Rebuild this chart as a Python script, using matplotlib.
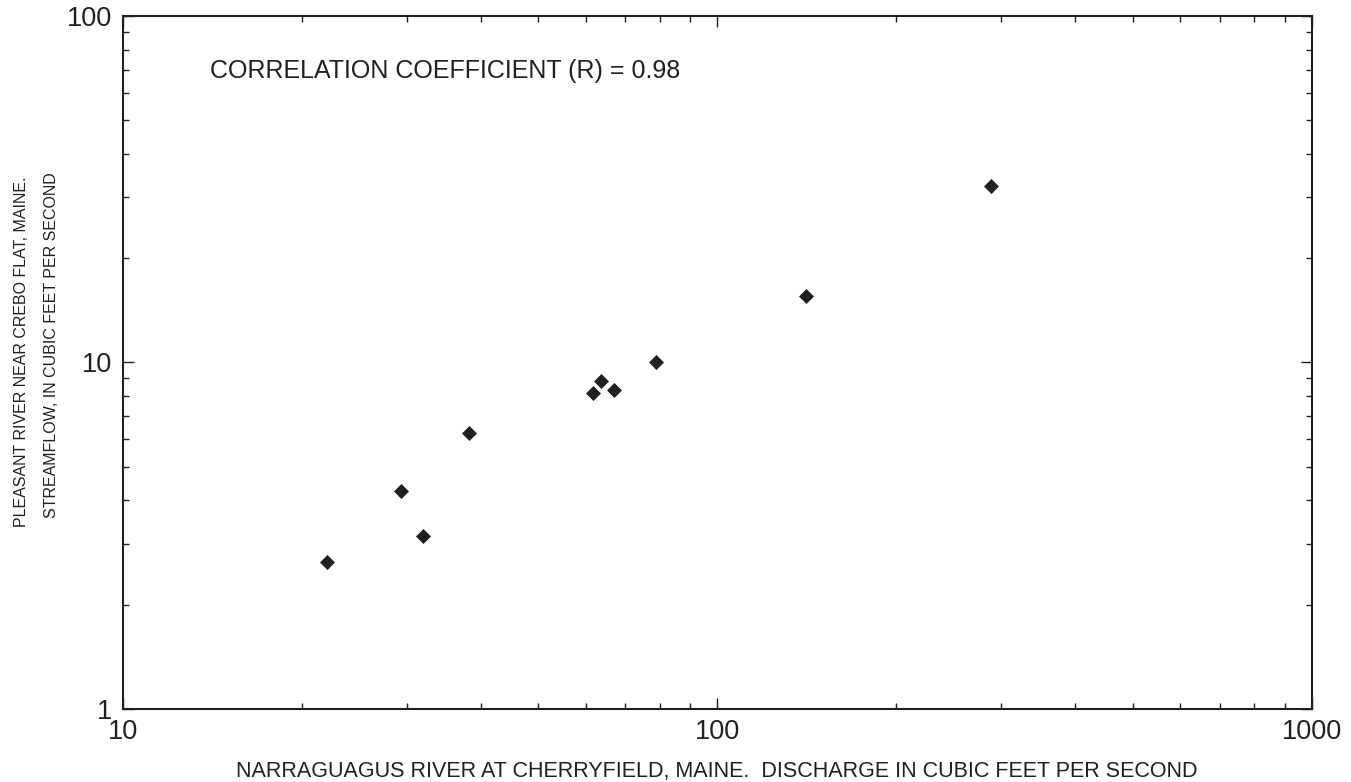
import matplotlib
matplotlib.use("Agg")
import matplotlib.pyplot as plt
from matplotlib.ticker import FixedLocator, FixedFormatter, LogLocator, NullFormatter

# values (cfs)
narraguagus_q = [22.0, 29.4, 32.0, 38.2, 61.8, 63.8, 66.9, 78.8, 141.0, 288.0]
pleasant_q = [2.65, 4.27, 3.15, 6.26, 8.17, 8.83, 8.35, 10.03, 15.6, 32.4]

x_ticks = [10, 100, 1000]
x_tick_labels = ["10", "100", "1000"]
y_ticks = [1, 10, 100]
y_tick_labels = ["1", "10", "100"]

r_text = "CORRELATION COEFFICIENT (R) = 0.98"
x_label = "NARRAGUAGUS RIVER AT CHERRYFIELD, MAINE.  DISCHARGE IN CUBIC FEET PER SECOND"
y_label_1 = "PLEASANT RIVER NEAR CREBO FLAT, MAINE."
y_label_2 = "STREAMFLOW, IN CUBIC FEET PER SECOND"

plt.rcParams["font.family"] = ["Liberation Sans", "DejaVu Sans"]
ink = "#231f20"

fig = plt.figure(figsize=(13.51, 7.82), dpi=100)
fig.subplots_adjust(left=0.091, right=0.9711, top=0.9795, bottom=0.0934)
ax = fig.add_subplot(111)

ax.plot(narraguagus_q, pleasant_q, linestyle="none", marker="D",
        markersize=6.8, color=ink, markeredgewidth=0.5)

ax.set_xscale("log")
ax.set_yscale("log")
ax.set_xlim(10, 1000)
ax.set_ylim(1, 100)

ax.xaxis.set_major_locator(FixedLocator(x_ticks))
ax.xaxis.set_major_formatter(FixedFormatter(x_tick_labels))
ax.yaxis.set_major_locator(FixedLocator(y_ticks))
ax.yaxis.set_major_formatter(FixedFormatter(y_tick_labels))
for axis in (ax.xaxis, ax.yaxis):
    axis.set_minor_locator(LogLocator(base=10, subs=range(2, 10)))
    axis.set_minor_formatter(NullFormatter())

ax.tick_params(which="both", direction="in", top=True, right=True,
               color=ink, labelcolor=ink, labelsize=19.5)
ax.tick_params(which="major", length=8, width=1)
ax.tick_params(which="minor", length=4, width=1)
ax.tick_params(axis="x", pad=7)
ax.tick_params(axis="y", pad=7.5)

for s in ax.spines.values():
    s.set_linewidth(1.5)
    s.set_color(ink)

ax.text(0.073, 0.92, r_text, transform=ax.transAxes, fontsize=18,
        color=ink, va="center", ha="left")

fig.text(717 / 1351, 1 - 772 / 782, x_label, fontsize=15.5, color=ink,
         ha="center", va="center")
fig.text(22 / 1351, 1 - 352 / 782, y_label_1, fontsize=11.5, color=ink,
         rotation=90, ha="center", va="center")
fig.text(52 / 1351, 1 - 345 / 782, y_label_2, fontsize=11.5, color=ink,
         rotation=90, ha="center", va="center")

fig.savefig("out.png", dpi=100)
